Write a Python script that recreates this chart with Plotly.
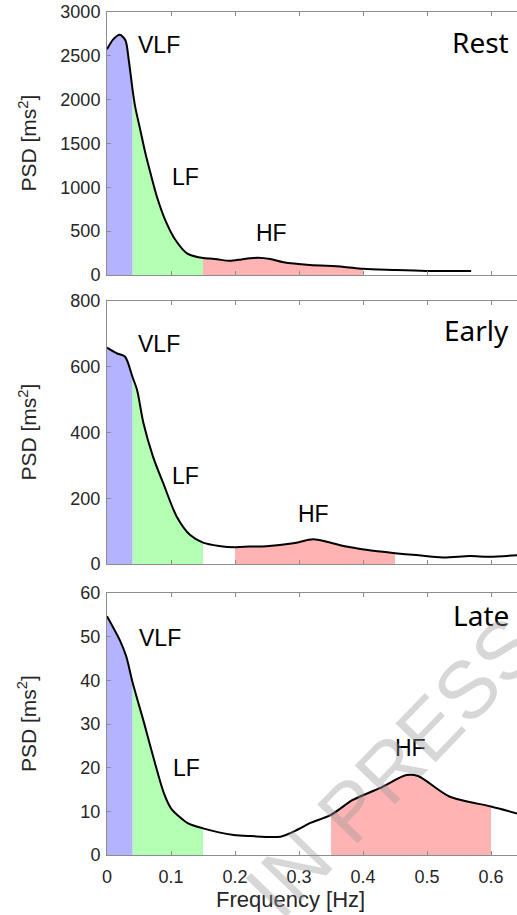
import plotly.graph_objects as go

# ---------------- data ----------------
rest_freq = [0, 0.01, 0.02, 0.0286, 0.034, 0.04, 0.044, 0.052, 0.06, 0.068, 0.078, 0.091, 0.107,
             0.125, 0.143, 0.15, 0.172, 0.192, 0.21, 0.223, 0.236, 0.255, 0.276, 0.317, 0.368,
             0.40, 0.446, 0.498, 0.569]
rest_psd = [2574, 2690, 2740, 2680, 2452, 2110, 1920, 1654, 1388, 1160, 893, 627, 399,
            247, 202, 195, 179, 162, 178, 190, 197, 182, 145, 114, 95,
            70, 57, 46, 46]

early_freq = [0, 0.015, 0.028, 0.04, 0.047, 0.057, 0.072, 0.088, 0.109, 0.13, 0.15, 0.175, 0.2,
              0.223, 0.249, 0.291, 0.322, 0.343, 0.374, 0.405, 0.45, 0.483, 0.525, 0.567, 0.598, 0.641]
early_psd = [658, 641, 631, 568, 529, 428, 326, 245, 144, 88, 65, 55, 51,
             53, 54, 63, 75, 68, 53, 43, 33, 27, 20, 24, 22, 27]

late_freq = [0, 0.02, 0.03, 0.04, 0.058, 0.0735, 0.089, 0.1, 0.126, 0.15, 0.198, 0.224, 0.271,
             0.299, 0.317, 0.35, 0.384, 0.426, 0.468, 0.486, 0.535, 0.6, 0.641]
late_psd = [54.7, 49.2, 45.5, 39.5, 30.2, 21.8, 14.1, 10.7, 7.3, 6.1, 4.6, 4.35, 4.2,
            5.9, 7.3, 9.2, 12.6, 15.3, 18.3, 18.1, 13.4, 11.1, 9.5]

panel_names = ["Rest", "Early", "Late"]
band_names = ["VLF", "LF", "HF"]
vlf_band = [0, 0.04]
lf_band = [0.04, 0.15]
hf_bands = [[0.15, 0.40], [0.20, 0.45], [0.35, 0.60]]
y_ranges = [[0, 3000], [0, 800], [0, 60]]
y_tickvals = [[0, 500, 1000, 1500, 2000, 2500, 3000],
              [0, 200, 400, 600, 800],
              [0, 10, 20, 30, 40, 50, 60]]
x_ticks = [0, 0.1, 0.2, 0.3, 0.4, 0.5, 0.6]

# label positions (data coords): VLF, LF, HF, and panel name
label_pos = [
    [(0.081, 2620), (0.123, 1120), (0.257, 475), (0.632, 2660)],
    [(0.082, 668), (0.123, 268), (0.322, 152), (0.632, 712)],
    [(0.083, 49.6), (0.124, 19.9), (0.474, 24.4), (0.632, 55)],
]

# ---------------- styling ----------------
band_colors = ["#b3b3ff", "#b3ffb3", "#ffb3b3"]
axis_gray = "#8c8c8c"
tick_font = dict(family="Liberation Sans, Arial, sans-serif", size=18, color="#262626")
lab_font = dict(family="Liberation Sans, Arial, sans-serif", size=23, color="black")
name_font = dict(family="Noto Sans, sans-serif", size=28, color="black")

# body margin is removed via post_script, so layout == screen pixels
OFF = 0
W, H = 517 - OFF, 915 - OFF
left_px, bottom_px = 107 - OFF, 855 - OFF
mt, mb, ml, mr = 12 - OFF, H - bottom_px, left_px, 0
ph = H - mt - mb
pw = W - ml
panel_px = [(12 - OFF, 275 - OFF), (301 - OFF, 564 - OFF), (593 - OFF, 855 - OFF)]
domains = [[(H - mb - b) / ph, (H - mb - t) / ph] for (t, b) in panel_px]
x_max = pw / 640.0  # 0.1 Hz per 64 px


def px_x(sx):
    return (sx - OFF - ml) / pw


def px_y(sy):
    return (H - mb - (sy - OFF)) / ph


fig = go.Figure()
series = [(rest_freq, rest_psd), (early_freq, early_psd), (late_freq, late_psd)]

for i, (fx, fy) in enumerate(series):
    xa = "x" if i == 0 else f"x{i+1}"
    ya = "y" if i == 0 else f"y{i+1}"
    bands = [vlf_band, lf_band, hf_bands[i]]
    for b, (lo, hi) in enumerate(bands):
        sx = [x for x in fx if lo <= x <= hi]
        sy = [y for x, y in zip(fx, fy) if lo <= x <= hi]
        fig.add_trace(go.Scatter(x=sx, y=sy, mode="lines", fill="tozeroy",
                                 fillcolor=band_colors[b], line=dict(width=0, shape="spline", smoothing=0.8),
                                 hoverinfo="skip", showlegend=False, xaxis=xa, yaxis=ya))
    fig.add_trace(go.Scatter(x=fx, y=fy, mode="lines",
                             line=dict(color="black", width=2, shape="spline", smoothing=0.8),
                             showlegend=False, xaxis=xa, yaxis=ya))
    for k, (lx, ly) in enumerate(label_pos[i]):
        if k < 3:
            fig.add_annotation(x=lx, y=ly, xref=xa, yref=ya, text=band_names[k], showarrow=False,
                               xanchor="center", yanchor="middle", font=lab_font)
        else:
            fig.add_annotation(x=lx, y=ly, xref=xa, yref=ya, text=panel_names[i], showarrow=False,
                               xanchor="right", yanchor="middle", font=name_font)
    fig.add_annotation(x=px_x(27), y=sum(domains[i]) / 2, xref="paper", yref="paper",
                       text="PSD [ms<sup>2</sup>]", textangle=-90, showarrow=False,
                       xanchor="center", yanchor="middle",
                       font=dict(family="Liberation Sans, Arial, sans-serif", size=21, color="#262626"))

    xkey = "xaxis" if i == 0 else f"xaxis{i+1}"
    ykey = "yaxis" if i == 0 else f"yaxis{i+1}"
    fig.update_layout({
        xkey: dict(domain=[0, 1], range=[0, x_max], anchor=ya, showline=True, linecolor=axis_gray,
                   linewidth=1, mirror="ticks", ticks="inside", ticklen=4, tickcolor=axis_gray,
                   tickvals=x_ticks, ticktext=[("0" if v == 0 else f"{v:g}") for v in x_ticks],
                   showticklabels=(i == 2), tickfont=tick_font, showgrid=False, zeroline=False,
                   ticklabelstandoff=5, automargin=False, ticklabeloverflow="allow"),
        ykey: dict(domain=domains[i], range=y_ranges[i], anchor=xa, showline=True, linecolor=axis_gray,
                   linewidth=1, ticks="inside", ticklen=4, tickcolor=axis_gray,
                   tickvals=y_tickvals[i], ticktext=[str(v) for v in y_tickvals[i]],
                   tickfont=tick_font, showgrid=False, zeroline=False, ticklabelstandoff=2,
                   automargin=False, ticklabeloverflow="allow"),
    })

# x title
fig.add_annotation(x=px_x(290.5), y=px_y(899), xref="paper", yref="paper",
                   text="Frequency [Hz]", showarrow=False, xanchor="center", yanchor="middle",
                   font=dict(family="Liberation Sans, Arial, sans-serif", size=22, color="#262626"))

# watermark
fig.add_annotation(x=px_x(392), y=px_y(767), xref="paper", yref="paper",
                   text="IN PRESS", showarrow=False, textangle=-46, xanchor="center", yanchor="middle",
                   font=dict(family="Liberation Sans, Arial, sans-serif", size=81, color="rgba(150,150,150,0.38)"))

fig.update_layout(width=W, height=H, margin=dict(l=ml, r=mr, t=mt, b=mb),
                  paper_bgcolor="white", plot_bgcolor="white", showlegend=False)

fig.write_html("out.html", config={"displayModeBar": False},
               post_script="document.body.style.margin='0';document.body.style.overflow='hidden';")
